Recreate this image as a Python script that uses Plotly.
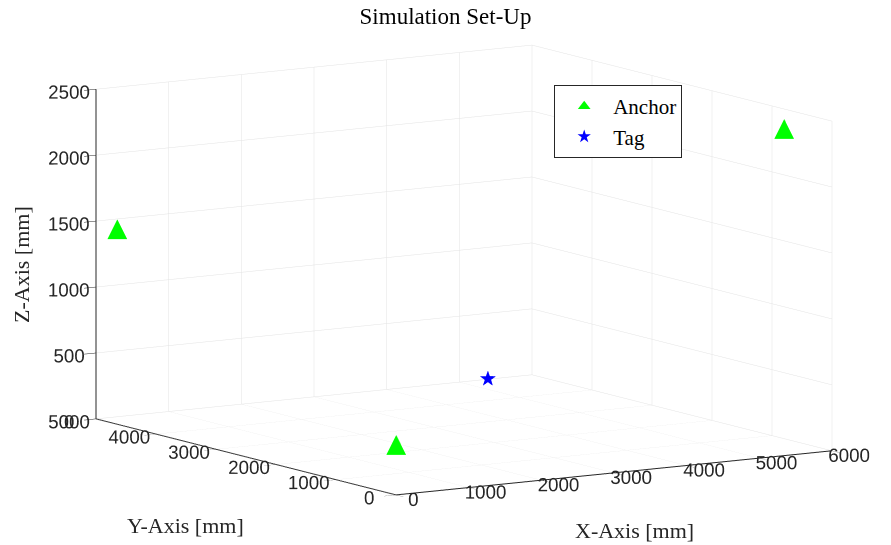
import plotly.graph_objects as go
import numpy as np

# Data (mm)
anchor_x = [0, 0, 6000]
anchor_y = [0, 4650, 800]
anchor_z = [380, 1480, 2350]
tag_x = [2500]
tag_y = [1500]
tag_z = [575]

x_ticks = [0, 1000, 2000, 3000, 4000, 5000, 6000]
y_ticks = [0, 1000, 2000, 3000, 4000, 5000]
z_ticks = [0, 500, 1000, 1500, 2000, 2500]

serif = "Liberation Serif, DejaVu Serif, serif"
sans = "Liberation Sans, Arial, sans-serif"

fig = go.Figure()

fig.add_trace(go.Scatter3d(
    x=anchor_x, y=anchor_y, z=anchor_z, mode="text", text=["▲"] * len(anchor_x),
    textfont=dict(color="#00FF00", size=26, family="DejaVu Sans"),
    textposition="middle center", showlegend=False, hoverinfo="skip"))
fig.add_trace(go.Scatter3d(
    x=tag_x, y=tag_y, z=tag_z, mode="text", text=["★"] * len(tag_x),
    textfont=dict(color="#0000FF", size=21, family="DejaVu Sans"),
    textposition="middle center", showlegend=False, hoverinfo="skip"))

# Legend proxies
fig.add_trace(go.Scatter(x=[None], y=[None], mode="markers", name="Anchor",
                         marker=dict(symbol="triangle-up", color="#00FF00", size=11)))
fig.add_trace(go.Scatter(x=[None], y=[None], mode="markers", name="Tag",
                         marker=dict(symbol="star", color="#0000FF", size=10)))

def ax3d(ticks):
    return dict(
        range=[ticks[0], ticks[-1]], tickvals=ticks, ticktext=[str(t) for t in ticks],
        showbackground=False, gridcolor="#e3e3e3", gridwidth=1,
        showline=True, linecolor="#262626", linewidth=2,
        ticks="outside", ticklen=14, tickcolor="#262626", tickwidth=1, tickangle=0,
        zeroline=False, showspikes=False,
        tickfont=dict(family=sans, size=15, color="#262626"),
        title=dict(text=""),
    )

eye = np.array([-0.527, -0.834, 0.160]) * 2.0

title_font = dict(family=serif, size=22, color="#262626")

fig.update_layout(
    width=891, height=545, margin=dict(l=0, r=0, t=0, b=0),
    paper_bgcolor="white", plot_bgcolor="rgba(0,0,0,0)", template="none",
    title=dict(text="Simulation Set-Up", x=0.5, xanchor="center", y=0.985, yanchor="top",
               font=dict(family=serif, size=23, color="black")),
    xaxis=dict(visible=False, domain=[0, 0.01]), yaxis=dict(visible=False, domain=[0, 0.01]),
    scene=dict(
        domain=dict(x=[0.0414, 1], y=[0.0092, 1]),
        xaxis=ax3d(x_ticks),
        yaxis=ax3d(y_ticks),
        zaxis=ax3d(z_ticks),
        aspectmode="manual", aspectratio=dict(x=1.91, y=2.08, z=1.237),
        camera=dict(eye=dict(x=eye[0], y=eye[1], z=eye[2]), center=dict(x=0, y=0, z=0),
                    up=dict(x=0, y=0, z=1), projection=dict(type="orthographic")),
        bgcolor="rgba(0,0,0,0)",
    ),
    legend=dict(x=0.622, y=0.844, xanchor="left", yanchor="top", itemwidth=48,
                tracegroupgap=0,
                bgcolor="white", bordercolor="#262626", borderwidth=1,
                font=dict(family=serif, size=21, color="black")),
    annotations=[
        dict(text="X-Axis [mm]", x=634 / 891, y=1 - 530 / 545, xref="paper", yref="paper",
             xanchor="center", yanchor="middle", showarrow=False, font=title_font),
        dict(text="Y-Axis [mm]", x=185 / 891, y=1 - 525 / 545, xref="paper", yref="paper",
             xanchor="center", yanchor="middle", showarrow=False, font=title_font),
        dict(text="Z-Axis [mm]", x=21 / 891, y=1 - 265 / 545, xref="paper", yref="paper",
             xanchor="center", yanchor="middle", showarrow=False, textangle=-90,
             font=title_font),
    ],
)

fig.write_html("out.html")
